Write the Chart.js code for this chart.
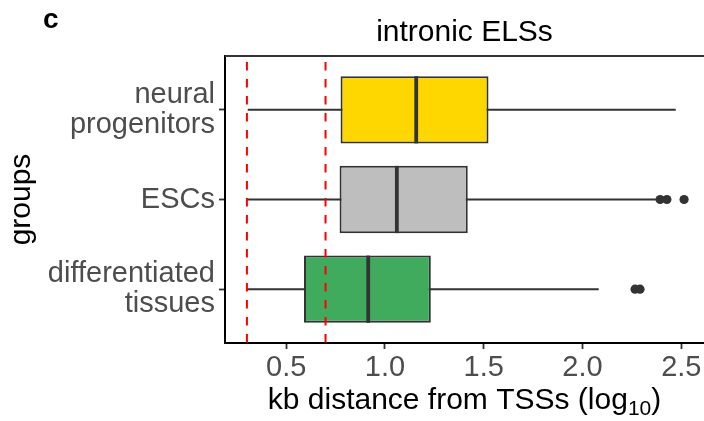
<!DOCTYPE html>
<html>
<head>
<meta charset="utf-8">
<script src="https://cdn.jsdelivr.net/npm/chart.js@4"></script>
<style>
  body { margin: 0; background: #fff; }
</style>
</head>
<body>
<canvas id="myChart" width="704" height="421"></canvas>
<script>
// groups from bottom to top
const groups = [["differentiated", "tissues"], "ESCs", ["neural", "progenitors"]];
const lowerWhisker = [0.30, 0.30, 0.305];
const q1 = [0.59, 0.77, 0.775];
const median = [0.915, 1.06, 1.158];
const q3 = [1.232, 1.419, 1.524];
const upperWhisker = [2.082, 2.38, 2.472];
const outliers = [[2.266, 2.291], [2.393, 2.427, 2.514], []];
const cutoffs = [0.301, 0.699];
const xTicks = [0.5, 1.0, 1.5, 2.0, 2.5];
const boxColors = ["#41AB5D", "#BEBEBE", "#FFD700"];

const FONT = "'Liberation Sans', Arial, sans-serif";

const boxPlugin = {
  id: "boxExtras",
  beforeDatasetsDraw(chart) {
    const { ctx, scales } = chart;
    ctx.save();
    ctx.strokeStyle = "#333333";
    ctx.lineWidth = 1.9;
    groups.forEach((g, i) => {
      const y = scales.y.getPixelForValue(i + 1);
      ctx.beginPath();
      ctx.moveTo(scales.x.getPixelForValue(lowerWhisker[i]), y);
      ctx.lineTo(scales.x.getPixelForValue(upperWhisker[i]), y);
      ctx.stroke();
    });
    ctx.restore();
  },
  afterDatasetDraw(chart, args) {
    if (args.index !== 0) return;
    const { ctx, scales } = chart;
    const meta = chart.getDatasetMeta(0);
    ctx.save();
    ctx.strokeStyle = "#333333";
    ctx.lineWidth = 3.8;
    meta.data.forEach((bar, i) => {
      const x = scales.x.getPixelForValue(median[i]);
      ctx.beginPath();
      ctx.moveTo(x, bar.y - bar.height / 2);
      ctx.lineTo(x, bar.y + bar.height / 2);
      ctx.stroke();
    });
    ctx.restore();
  },
  afterDatasetsDraw(chart) {
    const { ctx, scales, chartArea } = chart;
    ctx.save();
    // dashed cutoffs
    ctx.strokeStyle = "#FF0000";
    ctx.lineWidth = 2;
    ctx.setLineDash([8.5, 8.5]);
    ctx.lineDashOffset = -6;
    cutoffs.forEach((c) => {
      const x = scales.x.getPixelForValue(c);
      ctx.beginPath();
      ctx.moveTo(x, chartArea.top);
      ctx.lineTo(x, chartArea.bottom);
      ctx.stroke();
    });
    ctx.setLineDash([]);
    // top border of panel
    ctx.strokeStyle = "#333333";
    ctx.lineWidth = 2;
    ctx.beginPath();
    ctx.moveTo(chartArea.left, chartArea.top);
    ctx.lineTo(chartArea.right, chartArea.top);
    ctx.stroke();
    ctx.restore();
  },
  afterDraw(chart) {
    const { ctx, chartArea } = chart;
    ctx.save();
    ctx.fillStyle = "#000";
    ctx.textBaseline = "alphabetic";
    // panel letter
    ctx.font = "bold 28px " + FONT;
    ctx.textAlign = "left";
    ctx.fillText("c", 43, 28);
    // title
    ctx.font = "30px " + FONT;
    ctx.textAlign = "center";
    ctx.fillText("intronic ELSs", (chartArea.left + chartArea.right) / 2, 41);
    // x axis title with subscript
    const main = "kb distance from TSSs (log";
    const sub = "10";
    const end = ")";
    ctx.font = "30px " + FONT;
    const wMain = ctx.measureText(main).width;
    const wEnd = ctx.measureText(end).width;
    ctx.font = "21px " + FONT;
    const wSub = ctx.measureText(sub).width;
    const total = wMain + wSub + wEnd;
    let x = (chartArea.left + chartArea.right) / 2 - total / 2;
    const base = 409;
    ctx.textAlign = "left";
    ctx.font = "30px " + FONT;
    ctx.fillText(main, x, base);
    x += wMain;
    ctx.font = "21px " + FONT;
    ctx.fillText(sub, x, base + 6);
    x += wSub;
    ctx.font = "30px " + FONT;
    ctx.fillText(end, x, base);
    ctx.restore();
  }
};

const ctx = document.getElementById("myChart").getContext("2d");
const myChart = new Chart(ctx, {
  type: "bar",
  data: {
    datasets: [
      {
        type: "bar",
        data: groups.map((g, i) => ({ x: [q1[i], q3[i]], y: i + 1 })),
        backgroundColor: boxColors,
        borderColor: "#333333",
        borderWidth: 2,
        borderSkipped: false,
        barPercentage: 0.75,
        categoryPercentage: 1,
      },
      {
        type: "scatter",
        data: outliers.flatMap((vals, i) => vals.map((v) => ({ x: v, y: i + 1 }))),
        backgroundColor: "#333333",
        borderWidth: 0,
        pointRadius: 4.6,
      },
    ],
  },
  options: {
    indexAxis: "y",
    responsive: false,
    animation: false,
    layout: { autoPadding: false, padding: { top: 56, right: 0, left: 0, bottom: 0 } },
    plugins: {
      legend: { display: false },
      tooltip: { enabled: false },
    },
    scales: {
      x: {
        type: "linear",
        min: 0.19,
        max: 2.615,
        afterBuildTicks: (scale) => {
          scale.ticks = xTicks.map((v) => ({ value: v }));
        },
        afterFit: (scale) => {
          scale.height = 78;
          scale.paddingLeft = 0;
          scale.paddingRight = 0;
        },
        ticks: {
          callback: (v) => Number(v).toFixed(1),
          color: "#4D4D4D",
          font: { family: FONT, size: 29 },
          padding: 2,
          maxRotation: 0,
        },
        grid: {
          drawOnChartArea: false,
          drawTicks: true,
          tickLength: 6,
          tickWidth: 1.8,
          tickColor: "#333333",
        },
        border: { display: true, color: "#000", width: 2 },
      },
      y: {
        type: "linear",
        min: 0.4,
        max: 3.6,
        offset: false,
        afterBuildTicks: (scale) => {
          scale.ticks = groups.map((g, i) => ({ value: i + 1 }));
        },
        afterFit: (scale) => {
          scale.width = 225;
          scale.paddingTop = 0;
          scale.paddingBottom = 0;
        },
        ticks: {
          callback: (v) => groups[Math.round(v) - 1],
          color: "#4D4D4D",
          font: { family: FONT, size: 29, lineHeight: 1.03 },
          padding: 4,
        },
        grid: {
          offset: false,
          drawOnChartArea: false,
          drawTicks: true,
          tickLength: 6,
          tickWidth: 1.8,
          tickColor: "#333333",
        },
        border: { display: true, color: "#000", width: 2 },
        title: {
          display: true,
          text: "groups",
          color: "#000",
          font: { family: FONT, size: 30 },
          padding: { top: 4, bottom: 0 },
        },
      },
    },
  },
  plugins: [boxPlugin],
});
</script>
</body>
</html>
